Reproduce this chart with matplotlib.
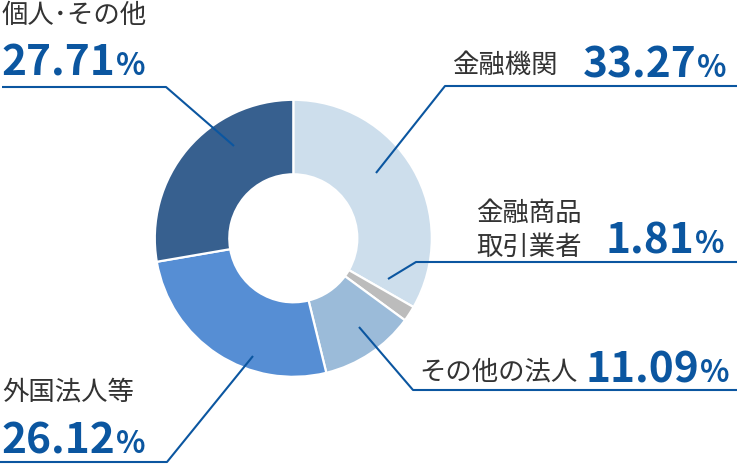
import matplotlib
matplotlib.use("Agg")
import matplotlib.pyplot as plt

# data (share of shares, %)
categories = ["金融機関", "金融商品取引業者", "その他の法人", "外国法人等", "個人・その他"]
labels = ["金融機関", "金融商品\n取引業者", "その他の法人", "外国法人等", "個人･その他"]
shares = [33.27, 1.81, 11.09, 26.12, 27.71]
share_text = ["33.27", "1.81", "11.09", "26.12", "27.71"]

colors = ["#cddeec", "#bcbcbc", "#9bbbd9", "#568ed4", "#37608f"]
line_col = "#0b56a0"
text_col = "#333333"
fonts = ["Noto Sans CJK JP", "DejaVu Sans"]

W, H = 737, 465
fig = plt.figure(figsize=(W / 100, H / 100), dpi=100)
ax = fig.add_axes([0, 0, 1, 1])

# y axis runs downwards, so counterclock in data = clockwise on screen
ax.pie(shares, colors=colors, startangle=-90, counterclock=True,
       center=(293.3, 238.3), radius=138.5,
       wedgeprops=dict(width=74.5, edgecolor="white", linewidth=1.6))
ax.set_xlim(0, W)
ax.set_ylim(H, 0)
ax.set_aspect("auto")
ax.axis("off")

# leader lines (pixel layout)
leaders = {
    "金融機関": [(376, 173), (445, 86), (737, 86)],
    "金融商品取引業者": [(388, 279), (416, 262), (737, 262)],
    "その他の法人": [(359, 327), (413, 390), (737, 390)],
    "外国法人等": [(253, 356), (167, 462), (0, 462)],
    "個人・その他": [(234, 146), (166, 87), (2, 87)],
}
for name in categories:
    xs, ys = zip(*leaders[name])
    ax.plot(xs, ys, color=line_col, lw=1.5, solid_capstyle="butt")


def label(x, y, s, ha="left"):
    ax.text(x, y, s, ha=ha, va="baseline", fontsize=19, color=text_col,
            family=fonts, linespacing=1.1)


def number(x, y, s, align="left"):
    kw = dict(color=line_col, family=fonts, fontweight="bold", va="baseline")
    if align == "left":
        t = ax.text(x, y, s, ha="left", fontsize=30.5, **kw)
        ax.annotate("%", xy=(1, y), xycoords=(t, "data"), xytext=(1, 0),
                    textcoords="offset points", ha="left", fontsize=22, **kw)
    else:
        p = ax.text(x, y, "%", ha="right", fontsize=22, **kw)
        ax.annotate(s, xy=(0, y), xycoords=(p, "data"), xytext=(-1, 0),
                    textcoords="offset points", ha="right", fontsize=30.5, **kw)


label(2, 23, labels[4])
number(1, 75, share_text[4])

label(2, 400, labels[3])
number(1, 453, share_text[3])

label(452, 73, labels[0])
number(727, 77, share_text[0], align="right")

label(476, 221, "金融商品")
label(476, 255, "取引業者")
number(725, 253, share_text[1], align="right")

label(419, 380, labels[2])
number(730, 382, share_text[2], align="right")

fig.savefig("out.png", dpi=100, facecolor="white")
